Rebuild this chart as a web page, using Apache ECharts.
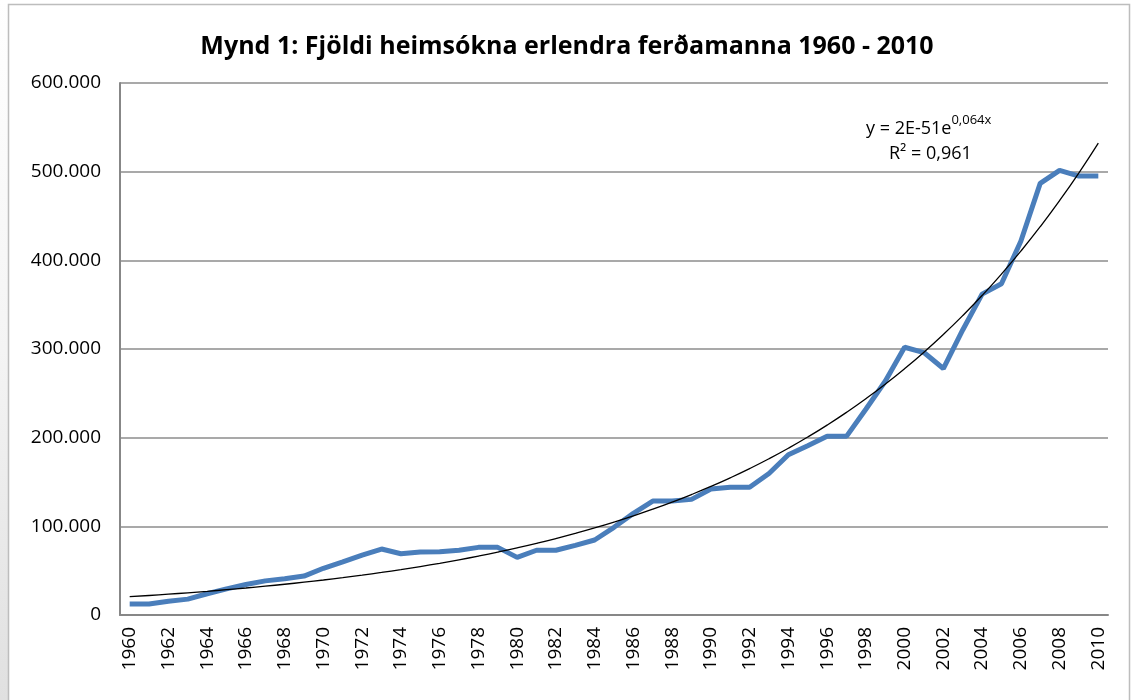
<!DOCTYPE html>
<html>
<head>
<meta charset="utf-8">
<script src="https://cdn.jsdelivr.net/npm/echarts@6/dist/echarts.min.js"></script>
<style>
  html, body { margin: 0; padding: 0; background: #fff; }
  #chart { width: 1134px; height: 700px; }
</style>
</head>
<body>
<div id="chart"></div>
<script>
// ár 1960 - 2010
const years = [];
for (let y = 1960; y <= 2010; y++) years.push(String(y));

// fjöldi heimsókna (lesið af myndinni)
const visits = [
  12500, 12500, 15600, 17900, 24000, 29400, 34400, 38500, 40800, 43900,
  52700, 59900, 67600, 74400, 69100, 71000, 71300, 73000, 76300, 76300,
  65000, 73000, 73000, 78600, 84600, 98900, 114600, 128500, 128500, 130400,
  142000, 144000, 144000, 159500, 180700, 191000, 201500, 201500, 232000, 263600,
  302000, 296000, 278000, 321500, 361900, 373600, 421500, 486800, 501500, 495000,
  495000
];

const yTicks = [0, 100000, 200000, 300000, 400000, 500000, 600000];
const titleText = 'Mynd 1: Fjöldi heimsókna erlendra ferðamanna 1960 - 2010';
const eqMain = 'y = 2E-51e';
const eqSup = '0,064x';
const r2Text = 'R² = 0,961';

// veldisvísis leitnilína (minnstu kvaðrata á ln y), eins og Excel gerir
function expTrend(vals) {
  const n = vals.length;
  let sx = 0, sy = 0, sxx = 0, sxy = 0;
  vals.forEach((v, i) => {
    const ly = Math.log(v);
    sx += i; sy += ly; sxx += i * i; sxy += i * ly;
  });
  const b = (n * sxy - sx * sy) / (n * sxx - sx * sx);
  const a = (sy - b * sx) / n;
  return vals.map((v, i) => Math.exp(a + b * i));
}
const trend = expTrend(visits);

function fmt(v) {
  return String(v).replace(/\B(?=(\d{3})+(?!\d))/g, '.');
}

const chart = echarts.init(document.getElementById('chart'));
const font = '"Open Sans", "Noto Sans", sans-serif';

chart.setOption({
  animation: false,
  backgroundColor: '#fff',
  title: {
    text: titleText,
    left: 'center',
    top: 29,
    textStyle: { fontFamily: font, fontWeight: 'bold', fontSize: 25, color: '#000' }
  },
  grid: { left: 120, right: 26, top: 83, bottom: 85 },
  xAxis: {
    type: 'category',
    data: years,
    boundaryGap: true,
    axisTick: { show: false },
    axisLine: { lineStyle: { color: '#878787', width: 2 } },
    axisLabel: {
      interval: 1,
      rotate: 90,
      margin: 12,
      fontFamily: font,
      fontSize: 19,
      color: '#000'
    }
  },
  yAxis: {
    type: 'value',
    min: 0,
    max: 600000,
    interval: 100000,
    axisLine: { show: true, lineStyle: { color: '#878787', width: 2 } },
    axisTick: { show: false },
    splitLine: { lineStyle: { color: '#8c8c8c', width: 1.5 } },
    axisLabel: {
      margin: 19,
      fontFamily: font,
      fontSize: 19,
      color: '#000',
      formatter: v => fmt(v)
    }
  },
  series: [
    {
      name: 'Fjöldi',
      type: 'line',
      data: visits,
      symbol: 'none',
      lineStyle: { color: '#4a7ebb', width: 5 },
      z: 2
    },
    {
      name: 'Leitni',
      type: 'line',
      data: trend,
      symbol: 'none',
      smooth: true,
      lineStyle: { color: '#000', width: 1.3 },
      z: 3
    }
  ],
  graphic: [
    {
      type: 'rect',
      silent: true,
      shape: { x: 0, y: 0, width: 8, height: 700 },
      style: {
        fill: new echarts.graphic.LinearGradient(0, 0, 0, 1, [
          { offset: 0, color: '#ffffff' },
          { offset: 0.5, color: '#f4f4f4' },
          { offset: 1, color: '#e0e0e0' }
        ])
      }
    },
    {
      type: 'rect',
      silent: true,
      shape: { x: 8.5, y: 4.5, width: 1121, height: 720 },
      style: { fill: 'none', stroke: '#bdbdbd', lineWidth: 1.5 }
    },
    {
      type: 'text',
      left: 866,
      top: 114,
      style: {
        text: '{a|' + eqMain + '}{b|' + eqSup + '}',
        fontFamily: font,
        fill: '#000',
        rich: {
          a: { fontFamily: font, fontSize: 18, lineHeight: 24, verticalAlign: 'bottom' },
          b: { fontFamily: font, fontSize: 13, lineHeight: 16, verticalAlign: 'top' }
        }
      }
    },
    {
      type: 'text',
      left: 889,
      top: 145,
      style: { text: r2Text, fontFamily: font, fontSize: 18, fill: '#000' }
    }
  ]
});
</script>
</body>
</html>
